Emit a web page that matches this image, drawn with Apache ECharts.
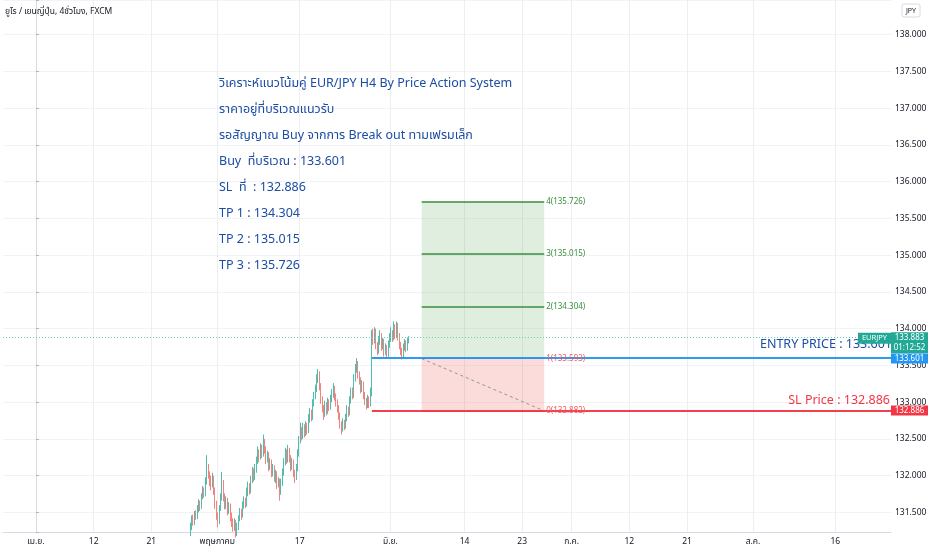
<!DOCTYPE html>
<html><head><meta charset="utf-8">
<script src="https://cdn.jsdelivr.net/npm/echarts@6/dist/echarts.min.js"></script>
<style>html,body{margin:0;padding:0;background:#fff}#c{width:932px;height:550px}</style>
</head><body><div id="c"></div>
<script>
// ---- data ----
const startDay = 18.75;          // trading-day index of first H4 bar (day 0 = 1 Apr)
const barStep = 1 / 6;           // H4 bars: 6 per trading day
// [open, close, low, high]
const candles = [
[131.24,131.30,131.18,131.36],[131.30,131.42,131.26,131.46],[131.42,131.36,131.32,131.47],[131.36,131.48,131.33,131.52],[131.48,131.44,131.40,131.53],[131.44,131.55,131.41,131.60],
[131.55,131.62,131.50,131.68],[131.62,131.58,131.52,131.66],[131.58,131.72,131.55,131.76],[131.72,131.80,131.68,131.86],[131.80,131.76,131.70,131.84],[131.76,131.92,131.72,131.98],
[131.92,132.10,131.88,132.28],[132.10,132.02,131.96,132.16],[132.02,131.95,131.86,132.06],[131.95,131.88,131.80,132.00],[131.88,131.96,131.84,132.04],[131.96,131.80,131.74,132.00],
[131.80,131.62,131.55,131.84],[131.62,131.45,131.40,131.66],[131.45,131.38,131.30,131.50],[131.38,131.55,131.34,131.60],[131.55,131.70,131.52,131.76],[131.70,131.90,131.66,132.05],
[131.90,131.72,131.65,131.94],[131.72,131.60,131.54,131.76],[131.60,131.66,131.55,131.72],[131.66,131.52,131.46,131.70],[131.52,131.58,131.48,131.64],[131.58,131.45,131.38,131.62],
[131.45,131.38,131.30,131.50],[131.38,131.30,131.24,131.42],[131.30,131.36,131.25,131.42],[131.36,131.24,131.16,131.40],[131.24,131.30,131.18,131.36],[131.30,131.42,131.26,131.46],
[131.42,131.50,131.38,131.56],[131.50,131.46,131.40,131.55],[131.46,131.60,131.43,131.65],[131.60,131.66,131.55,131.72],[131.66,131.62,131.56,131.70],[131.62,131.78,131.58,131.84],
[131.78,131.85,131.72,131.92],[131.85,131.80,131.74,131.90],[131.80,131.95,131.76,132.00],[131.95,132.05,131.90,132.12],[132.05,131.98,131.92,132.10],[131.98,132.10,131.94,132.16],
[132.10,132.20,132.04,132.26],[132.20,132.32,132.16,132.40],[132.32,132.25,132.18,132.36],[132.25,132.38,132.22,132.44],[132.38,132.30,132.24,132.42],[132.30,132.45,132.26,132.56],
[132.45,132.36,132.30,132.50],[132.36,132.22,132.16,132.40],[132.22,132.28,132.18,132.34],[132.28,132.12,132.06,132.32],[132.12,132.18,132.08,132.24],[132.18,132.05,131.98,132.22],
[132.05,132.10,131.99,132.16],[132.10,131.98,131.92,132.14],[131.98,132.02,131.90,132.08],[132.02,131.88,131.82,132.06],[131.88,131.92,131.84,131.98],[131.92,131.78,131.66,131.96],
[131.78,131.90,131.74,131.96],[131.90,132.05,131.86,132.10],[132.05,132.18,132.00,132.24],[132.18,132.30,132.14,132.38],[132.30,132.22,132.16,132.36],[132.22,132.34,132.18,132.42],
[132.34,132.24,132.18,132.38],[132.24,132.12,132.06,132.28],[132.12,132.18,132.08,132.24],[132.18,132.05,131.98,132.22],[132.05,131.98,131.90,132.08],[131.98,132.10,131.94,132.16],
[132.10,132.30,132.06,132.36],[132.30,132.48,132.26,132.54],[132.48,132.62,132.44,132.72],[132.62,132.55,132.48,132.66],[132.55,132.66,132.50,132.72],[132.66,132.58,132.52,132.70],
[132.58,132.68,132.54,132.74],[132.68,132.62,132.56,132.72],[132.62,132.78,132.58,132.84],[132.78,132.86,132.72,132.92],[132.86,132.80,132.74,132.90],[132.80,132.98,132.76,133.04],
[132.98,133.08,132.94,133.14],[133.08,133.18,133.04,133.24],[133.18,133.30,133.14,133.38],[133.30,133.36,133.26,133.45],[133.36,133.22,133.16,133.42],[133.22,133.05,132.98,133.26],
[133.05,132.92,132.86,133.08],[132.92,132.84,132.76,132.96],[132.84,132.96,132.80,133.02],[132.96,132.88,132.82,133.00],[132.88,133.00,132.84,133.06],[133.00,132.94,132.88,133.04],
[132.94,133.05,132.90,133.10],[133.05,133.12,133.00,133.18],[133.12,133.18,133.06,133.26],[133.18,133.08,133.02,133.22],[133.08,133.00,132.94,133.12],[133.00,132.92,132.86,133.04],
[132.92,132.82,132.76,132.96],[132.82,132.70,132.64,132.86],[132.70,132.64,132.56,132.74],[132.64,132.72,132.60,132.78],[132.72,132.68,132.62,132.76],[132.68,132.78,132.64,132.84],
[132.78,132.90,132.74,132.96],[132.90,132.86,132.80,132.94],[132.86,133.02,132.82,133.08],[133.02,133.15,132.98,133.20],[133.15,133.10,133.04,133.20],[133.10,133.32,133.06,133.38],
[133.32,133.45,133.28,133.52],[133.45,133.52,133.40,133.60],[133.52,133.38,133.32,133.56],[133.38,133.30,133.24,133.42],[133.30,133.18,133.12,133.34],[133.18,133.24,133.14,133.30],
[133.24,133.10,133.04,133.28],[133.10,133.02,132.96,133.14],[133.02,132.96,132.90,133.06],[132.96,133.05,132.92,133.10],[133.05,132.98,132.92,133.08],[132.98,133.12,132.94,133.20],
[133.12,133.92,133.08,133.98],[133.92,133.85,133.78,134.00],[133.85,133.96,133.80,134.02],[133.96,133.78,133.72,134.00],[133.78,133.70,133.64,133.82],[133.70,133.84,133.66,133.90],
[133.84,133.90,133.78,133.98],[133.90,133.76,133.70,133.94],[133.76,133.82,133.72,133.88],[133.82,133.68,133.62,133.86],[133.68,133.74,133.64,133.80],[133.74,133.66,133.60,133.78],
[133.66,133.78,133.62,133.84],[133.78,133.86,133.74,133.94],[133.86,133.94,133.82,134.02],[133.94,133.88,133.82,133.98],[133.88,134.02,133.84,134.10],[134.02,133.92,133.86,134.06],
[133.92,134.04,133.88,134.10],[134.04,133.90,133.84,134.08],[133.90,133.78,133.72,133.94],[133.78,133.70,133.64,133.82],[133.70,133.62,133.58,133.74],[133.62,133.74,133.60,133.80],
[133.74,133.80,133.70,133.86],[133.80,133.72,133.68,133.84],[133.72,133.84,133.70,133.88],[133.84,133.883,133.80,133.90]
];
const axisLabelDays = [0, 7, 14, 22, 32, 43, 52, 59, 65, 72, 79, 87, 97];
const axisLabelTexts = ['เม.ย.', '12', '21', 'พฤษภาคม', '17', 'มิ.ย.', '14', '23', 'ก.ค.', '12', '21', 'ส.ค.', '16'];
const entryPrice = 133.601, stopPrice = 132.886, lastPrice = 133.883, countdown = '01:12:52';
const levelStartDay = 40.75;
const boxStartDay = 46.8, boxEndDay = 61.67;
const boxLevels = [132.882, 133.593, 134.304, 135.015, 135.726];
const boxLabels = ['0(132.882)', '1(133.593)', '2(134.304)', '3(135.015)', '4(135.726)'];
const noteLines = ['วิเคราะห์แนวโน้มคู่ EUR/JPY H4 By Price Action System', 'ราคาอยู่ที่บริเวณแนวรับ', 'รอสัญญาณ Buy จากการ Break out ทามเฟรมเล็ก', 'Buy  ที่บริเวณ : 133.601', 'SL  ที่  : 132.886', 'TP 1 : 134.304', 'TP 2 : 135.015', 'TP 3 : 135.726'];
const headerText = 'ยูโร / เยนญี่ปุ่น, 4ชั่วโมง, FXCM';

const X_MIN = -4, X_MAX = 103.75, Y_MIN = 131.234, Y_MAX = 138.472;
const FONT = '"Noto Sans", "Noto Sans Thai", "DejaVu Sans", Roboto, sans-serif';
const UP = '#55bbad', DOWN = '#f3837f';

const chart = echarts.init(document.getElementById('c'));
const candleData = candles.map((c, i) => [startDay + i * barStep, c[0], c[1], c[2], c[3]]);
const labelMap = {};
axisLabelDays.forEach((d, i) => labelMap[d] = axisLabelTexts[i]);

const gridLineData = axisLabelDays.map(d => ({ xAxis: d }));

chart.setOption({
  animation: false,
  backgroundColor: '#ffffff',
  grid: { left: 0, right: 41, top: 0, bottom: 18, containLabel: false },
  xAxis: {
    type: 'value', min: X_MIN, max: X_MAX, interval: 1,
    axisLine: { show: true, lineStyle: { color: '#d6dae3', width: 1 } },
    axisTick: { show: false },
    splitLine: { show: false },
    axisLabel: {
      color: '#131722', fontSize: 8.5, fontFamily: FONT, margin: 5,
      formatter: v => labelMap[v] || ''
    }
  },
  yAxis: {
    type: 'value', position: 'right', min: Y_MIN, max: Y_MAX,
    splitNumber: 14, minInterval: 0.5, maxInterval: 0.5, scale: true,
    axisLine: { show: true, lineStyle: { color: '#d6dae3' } },
    axisTick: { show: true, length: 3, lineStyle: { color: '#b2b5be' } },
    splitLine: { show: true, lineStyle: { color: '#f2f3f6', width: 1 } },
    axisLabel: {
      color: '#131722', fontSize: 8.5, fontFamily: FONT, margin: 4,
      formatter: v => (Math.abs(v * 2 - Math.round(v * 2)) < 1e-6 ? v.toFixed(3) : '')
    }
  },
  series: [
    {
      type: 'line', data: [], z: 0, silent: true,
      markLine: {
        silent: true, z: 0, symbol: ['none', 'none'], label: { show: false },
        lineStyle: { color: '#eceef2', width: 1, type: 'solid' },
        data: gridLineData
      }
    },
    {
      type: 'line', data: [], z: 1, silent: true,
      markArea: {
        silent: true, z: 1, label: { show: false },
        data: [
          [{ xAxis: boxStartDay, yAxis: boxLevels[1], itemStyle: { color: 'rgba(76,160,80,0.18)' } }, { xAxis: boxEndDay, yAxis: boxLevels[4] }],
          [{ xAxis: boxStartDay, yAxis: boxLevels[0], itemStyle: { color: 'rgba(242,80,70,0.2)' } }, { xAxis: boxEndDay, yAxis: boxLevels[1] }]
        ]
      }
    },
    {
      type: 'candlestick', data: candleData, z: 2, barWidth: 0.6,
      encode: { x: 0, y: [1, 2, 3, 4] },
      itemStyle: { color: UP, color0: DOWN, borderColor: UP, borderColor0: DOWN, borderWidth: 1 }
    },
    {
      type: 'line', data: [], z: 3, silent: true,
      markLine: {
        silent: true, z: 5, symbol: ['none', 'none'],
        data: [
          // current price dotted line
          [{ coord: [X_MIN, lastPrice], lineStyle: { color: '#6fcabc', width: 1, type: [1, 2] }, label: { show: false } }, { coord: [X_MAX, lastPrice] }],
          // dashed risk line
          [{ coord: [boxStartDay, boxLevels[1]], lineStyle: { color: '#8c9a8f', width: 1, type: [3, 3] }, label: { show: false } }, { coord: [boxEndDay, boxLevels[0]] }],
          // TP lines
          ...[2, 3, 4].map(i => [
            { coord: [boxStartDay, boxLevels[i]], lineStyle: { color: '#3a8f3e', width: 1.5, type: 'solid' },
              label: { show: true, position: 'end', distance: 2, formatter: boxLabels[i], color: '#3a8f3e', fontSize: 8, fontFamily: FONT } },
            { coord: [boxEndDay, boxLevels[i]] }
          ]),
          // entry / stop lines inside box
          ...[0, 1].map(i => [
            { coord: [boxStartDay, boxLevels[i]], lineStyle: { color: '#f23645', width: 1, type: 'solid' },
              label: { show: true, position: 'end', distance: 2, formatter: boxLabels[i], color: '#ef5a5a', fontSize: 8, fontFamily: FONT } },
            { coord: [boxEndDay, boxLevels[i]] }
          ]),
          // entry / stop level lines
          [{ coord: [levelStartDay, entryPrice], lineStyle: { color: '#2196f3', width: 2, type: 'solid', opacity: 0.95 }, label: { show: false } }, { coord: [X_MAX, entryPrice] }],
          [{ coord: [levelStartDay, stopPrice], lineStyle: { color: '#f23645', width: 2, type: 'solid', opacity: 0.95 }, label: { show: false } }, { coord: [X_MAX, stopPrice] }]
        ]
      }
    }
  ]
});

// overlay texts / price tags positioned through the chart's own scales
const yOf = v => chart.convertToPixel({ yAxisIndex: 0 }, v);
const xRight = chart.convertToPixel({ xAxisIndex: 0 }, X_MAX);
const yEntry = yOf(entryPrice), yStop = yOf(stopPrice), yLast = yOf(lastPrice);
const g = [];
g.push({ type: 'text', left: 5, top: 7, style: { text: headerText, fill: '#131722', font: '8.5px ' + FONT } });
g.push({ type: 'rect', shape: { x: 902, y: 4, width: 18, height: 13, r: 2 }, style: { fill: '#fff', stroke: '#d6dae3', lineWidth: 1 } });
g.push({ type: 'text', x: 911, y: 10.5, style: { text: 'JPY', fill: '#131722', font: '7px ' + FONT, textAlign: 'center', textVerticalAlign: 'middle' } });
noteLines.forEach((t, i) => {
  g.push({ type: 'text', x: 219, y: 83 + i * 26, style: { text: t, fill: '#1c4da3', font: '12.5px ' + FONT, textVerticalAlign: 'middle' } });
});
g.push({ type: 'text', x: xRight + 1, y: yEntry - 13.5, z: 10, style: { text: 'ENTRY PRICE : ' + entryPrice.toFixed(3), fill: '#1c4da3', font: '12.5px ' + FONT, textAlign: 'right', textVerticalAlign: 'middle' } });
g.push({ type: 'text', x: xRight - 1, y: yStop - 10.5, z: 10, style: { text: 'SL Price : ' + stopPrice.toFixed(3), fill: '#f23645', font: '12.5px ' + FONT, textAlign: 'right', textVerticalAlign: 'middle' } });
// last price tag
g.push({ type: 'rect', z: 20, shape: { x: xRight - 33, y: yLast - 4.5, width: 33, height: 11 }, style: { fill: '#22a996' } });
g.push({ type: 'text', z: 21, x: xRight - 16.5, y: yLast + 1, style: { text: 'EURJPY', fill: '#fff', font: '7.5px ' + FONT, textAlign: 'center', textVerticalAlign: 'middle' } });
g.push({ type: 'rect', z: 20, shape: { x: xRight, y: yLast - 5, width: 37, height: 21 }, style: { fill: '#22a996' } });
g.push({ type: 'text', z: 21, x: xRight + 18.5, y: yLast + 0.5, style: { text: lastPrice.toFixed(3), fill: '#fff', font: '8px ' + FONT, textAlign: 'center', textVerticalAlign: 'middle' } });
g.push({ type: 'text', z: 21, x: xRight + 18.5, y: yLast + 10.5, style: { text: countdown, fill: '#fff', font: '8px ' + FONT, textAlign: 'center', textVerticalAlign: 'middle' } });
// entry / stop tags
g.push({ type: 'rect', z: 22, shape: { x: xRight, y: yEntry - 4.5, width: 37, height: 10 }, style: { fill: '#2196f3' } });
g.push({ type: 'text', z: 23, x: xRight + 18.5, y: yEntry + 0.5, style: { text: entryPrice.toFixed(3), fill: '#fff', font: '8px ' + FONT, textAlign: 'center', textVerticalAlign: 'middle' } });
g.push({ type: 'rect', z: 22, shape: { x: xRight, y: yStop - 5, width: 37, height: 10 }, style: { fill: '#f23645' } });
g.push({ type: 'text', z: 23, x: xRight + 18.5, y: yStop, style: { text: stopPrice.toFixed(3), fill: '#fff', font: '8px ' + FONT, textAlign: 'center', textVerticalAlign: 'middle' } });
chart.setOption({ graphic: g });
</script></body></html>
